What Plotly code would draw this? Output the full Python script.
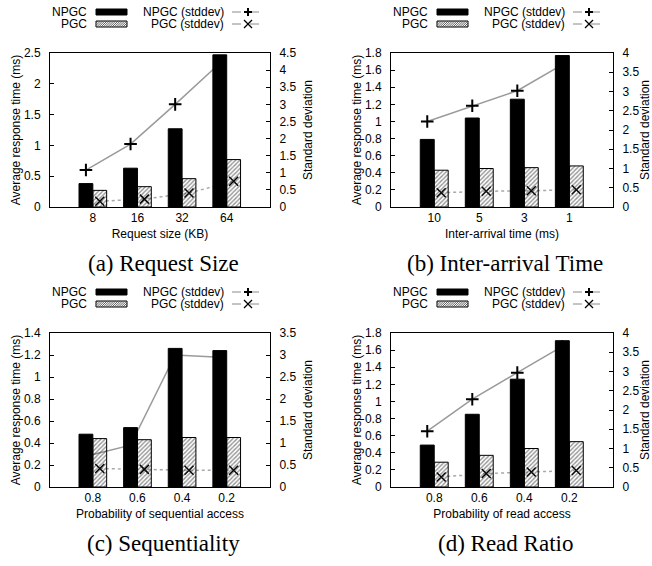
import plotly.graph_objects as go

W, H = 652, 566

# ---------------- data ----------------
cats_a = ["8", "16", "32", "64"]
npgc_a = [0.38, 0.63, 1.27, 2.47]
pgc_a = [0.27, 0.33, 0.46, 0.77]
npgc_sd_a = [1.08, 1.84, 3.0, 4.2]
pgc_sd_a = [0.17, 0.23, 0.41, 0.75]

cats_b = ["10", "5", "3", "1"]
npgc_b = [0.79, 1.04, 1.26, 1.77]
pgc_b = [0.43, 0.45, 0.46, 0.48]
npgc_sd_b = [2.22, 2.63, 3.02, 3.7]
pgc_sd_b = [0.37, 0.41, 0.42, 0.45]

cats_c = ["0.8", "0.6", "0.4", "0.2"]
npgc_c = [0.48, 0.54, 1.26, 1.24]
pgc_c = [0.44, 0.43, 0.45, 0.45]
npgc_sd_c = [0.7, 0.95, 3.0, 2.95]
pgc_sd_c = [0.42, 0.40, 0.38, 0.38]

cats_d = ["0.8", "0.6", "0.4", "0.2"]
npgc_d = [0.49, 0.85, 1.26, 1.71]
pgc_d = [0.29, 0.37, 0.45, 0.53]
npgc_sd_d = [1.45, 2.28, 2.97, 3.65]
pgc_sd_d = [0.26, 0.35, 0.39, 0.43]

xtitles = ["Request size (KB)", "Inter-arrival time (ms)",
           "Probability of sequential access", "Probability of read access"]
captions = ["(a) Request Size", "(b) Inter-arrival Time",
            "(c) Sequentiality", "(d) Read Ratio"]
left_ranges = [2.5, 1.8, 1.4, 1.8]
left_dticks = [0.5, 0.2, 0.2, 0.2]
right_ranges = [4.5, 4.0, 3.5, 4.0]

panels = [
    (cats_a, npgc_a, pgc_a, npgc_sd_a, pgc_sd_a),
    (cats_b, npgc_b, pgc_b, npgc_sd_b, pgc_sd_b),
    (cats_c, npgc_c, pgc_c, npgc_sd_c, pgc_sd_c),
    (cats_d, npgc_d, pgc_d, npgc_sd_d, pgc_sd_d),
]

# plot-area pixel boxes (left, right, top, bottom)
boxes = [(50, 270, 53, 207), (391, 613, 53, 207),
         (50, 270, 333, 487), (391, 613, 333, 487)]

FONT = "Liberation Sans, Arial, sans-serif"
SERIF = "Liberation Serif, Times New Roman, serif"


def pxx(x):
    return x / W


def pyy(y):
    return 1 - y / H


fig = go.Figure()
layout = dict(
    width=W, height=H,
    margin=dict(l=0, r=0, t=0, b=0),
    paper_bgcolor="white", plot_bgcolor="rgba(0,0,0,0)",
    showlegend=False,
    barmode="group", bargap=0.38, bargroupgap=0.0,
    scattermode="group", scattergap=0.38,
    font=dict(family=FONT, size=12, color="black"),
)
shapes = []
annotations = []

for i, (cats, npgc, pgc, npgc_sd, pgc_sd) in enumerate(panels):
    n = i + 1
    xid = "x" if n == 1 else f"x{n}"
    ybase = 2 * n - 1
    ybar = 2 * n
    yb_id = "y" if ybase == 1 else f"y{ybase}"
    yo_id = f"y{ybar}"
    L, R, T, B = boxes[i]

    # std-dev lines on the base (right) axis, drawn underneath the bars
    fig.add_trace(go.Scatter(
        x=cats, y=npgc_sd, xaxis=xid, yaxis=yb_id, mode="lines+markers",
        offsetgroup="npgc", name="NPGC (stddev)",
        line=dict(color="#9a9a9a", width=1.5),
        marker=dict(symbol="cross-thin", size=9, color="black",
                    line=dict(color="black", width=2)),
    ))
    fig.add_trace(go.Scatter(
        x=cats, y=pgc_sd, xaxis=xid, yaxis=yb_id, mode="lines+markers",
        offsetgroup="pgc", name="PGC (stddev)",
        line=dict(color="#a8a8a8", width=1.5, dash="dot"),
        marker=dict(symbol="x-thin", size=9, color="black",
                    line=dict(color="black", width=1.5)),
    ))
    # bars on overlaying (left) axis, drawn on top
    fig.add_trace(go.Bar(
        x=cats, y=npgc, xaxis=xid, yaxis=yo_id, name="NPGC",
        offsetgroup="npgc",
        marker=dict(color="black", line=dict(color="black", width=1)),
    ))
    fig.add_trace(go.Bar(
        x=cats, y=pgc, xaxis=xid, yaxis=yo_id, name="PGC",
        offsetgroup="pgc",
        marker=dict(color="black", line=dict(color="black", width=1),
                    pattern=dict(shape="/", size=3, solidity=0.45,
                                 fgcolor="#2a2a2a", bgcolor="rgba(255,255,255,0)")),
    ))

    xdom = [pxx(L), pxx(R)]
    ydom = [pyy(B), pyy(T)]
    xkey = "xaxis" if n == 1 else f"xaxis{n}"
    layout[xkey] = dict(
        domain=xdom, anchor=yb_id, type="category", range=[-0.96, 3.97],
        showline=True, linecolor="black", linewidth=1, mirror=True,
        ticks="", showgrid=False, zeroline=False,
        tickfont=dict(family=FONT, size=12),
        title=dict(text=xtitles[i], font=dict(family=FONT, size=12), standoff=5),
        automargin=False,
    )
    ybkey = "yaxis" if ybase == 1 else f"yaxis{ybase}"
    layout[ybkey] = dict(
        domain=ydom, anchor=xid, side="right", range=[0, right_ranges[i]],
        dtick=0.5, tick0=0, showline=True, linecolor="black", linewidth=1,
        ticks="inside", ticklen=4, tickcolor="black", showgrid=False,
        zeroline=False, ticklabelstandoff=6,
        tickfont=dict(family=FONT, size=12),
        title=dict(text="Standard deviation", font=dict(family=FONT, size=12), standoff=8),
        automargin=False,
    )
    layout[f"yaxis{ybar}"] = dict(
        domain=ydom, anchor=xid, overlaying=yb_id, side="left",
        range=[0, left_ranges[i]], dtick=left_dticks[i], tick0=0,
        showline=True, linecolor="black", linewidth=1,
        ticks="inside", ticklen=4, tickcolor="black", showgrid=False,
        zeroline=False, ticklabelstandoff=6,
        tickfont=dict(family=FONT, size=12),
        title=dict(text="Average response time (ms)", font=dict(family=FONT, size=12), standoff=0),
        automargin=False,
    )

    # caption
    annotations.append(dict(
        text=captions[i], xref="paper", yref="paper",
        x=pxx((L + R) / 2 + 3), y=pyy(T + 210), xanchor="center", yanchor="middle",
        showarrow=False, font=dict(family=SERIF, size=23, color="black"),
    ))

    # ----- gnuplot-style key (text then swatch) -----
    ty = T - 53  # legend top offset
    r1, r2 = ty + 12, ty + 24
    for txt, xr, yr in [("NPGC", L + 39, r1), ("PGC", L + 39, r2),
                        ("NPGC (stddev)", L + 176, r1), ("PGC (stddev)", L + 176, r2)]:
        annotations.append(dict(
            text=txt, xref="paper", yref="paper", x=pxx(xr), y=pyy(yr),
            xanchor="right", yanchor="middle", showarrow=False,
            font=dict(family=FONT, size=12, color="black"),
        ))
    sx0, sx1 = L + 46, L + 77
    shapes.append(dict(type="rect", xref="paper", yref="paper",
                       x0=pxx(sx0), x1=pxx(sx1), y0=pyy(r1 - 3), y1=pyy(r1 + 3),
                       fillcolor="black", line=dict(color="black", width=1)))
    # hatched swatch
    hy0, hy1 = r2 - 3, r2 + 3
    hh = hy1 - hy0
    path = ""
    c = -hh
    while c < (sx1 - sx0):
        xs = max(sx0, sx0 + c)
        xe = min(sx1, sx0 + c + hh)
        if xe > xs:
            ys = hy1 - (xs - sx0 - c)
            ye = hy1 - (xe - sx0 - c)
            path += f"M{pxx(xs):.5f},{pyy(ys):.5f} L{pxx(xe):.5f},{pyy(ye):.5f} "
        c += 2.2
    shapes.append(dict(type="rect", xref="paper", yref="paper",
                       x0=pxx(sx0), x1=pxx(sx1), y0=pyy(hy0), y1=pyy(hy1),
                       fillcolor="white", line=dict(color="black", width=1)))
    shapes.append(dict(type="path", xref="paper", yref="paper", path=path,
                       line=dict(color="#333333", width=0.8)))
    # line swatches
    lx0, lx1, mx = L + 182, L + 214, L + 198
    for yy in (r1, r2):
        shapes.append(dict(type="line", xref="paper", yref="paper",
                           x0=pxx(lx0), x1=pxx(lx1), y0=pyy(yy), y1=pyy(yy),
                           line=dict(color="#8a8a8a", width=1, dash="dash")))
    shapes.append(dict(type="line", xref="paper", yref="paper",
                       x0=pxx(mx - 4), x1=pxx(mx + 4), y0=pyy(r1), y1=pyy(r1),
                       line=dict(color="black", width=2)))
    shapes.append(dict(type="line", xref="paper", yref="paper",
                       x0=pxx(mx), x1=pxx(mx), y0=pyy(r1 - 4), y1=pyy(r1 + 4),
                       line=dict(color="black", width=2)))
    shapes.append(dict(type="line", xref="paper", yref="paper",
                       x0=pxx(mx - 4), x1=pxx(mx + 4), y0=pyy(r2 - 4), y1=pyy(r2 + 4),
                       line=dict(color="black", width=1.3)))
    shapes.append(dict(type="line", xref="paper", yref="paper",
                       x0=pxx(mx - 4), x1=pxx(mx + 4), y0=pyy(r2 + 4), y1=pyy(r2 - 4),
                       line=dict(color="black", width=1.3)))

layout["shapes"] = shapes
layout["annotations"] = annotations
fig.update_layout(**layout)
fig.write_html(
    "out.html",
    config={"displayModeBar": False},
    post_script="document.body.style.margin='0px';document.body.style.overflow='hidden';",
)
